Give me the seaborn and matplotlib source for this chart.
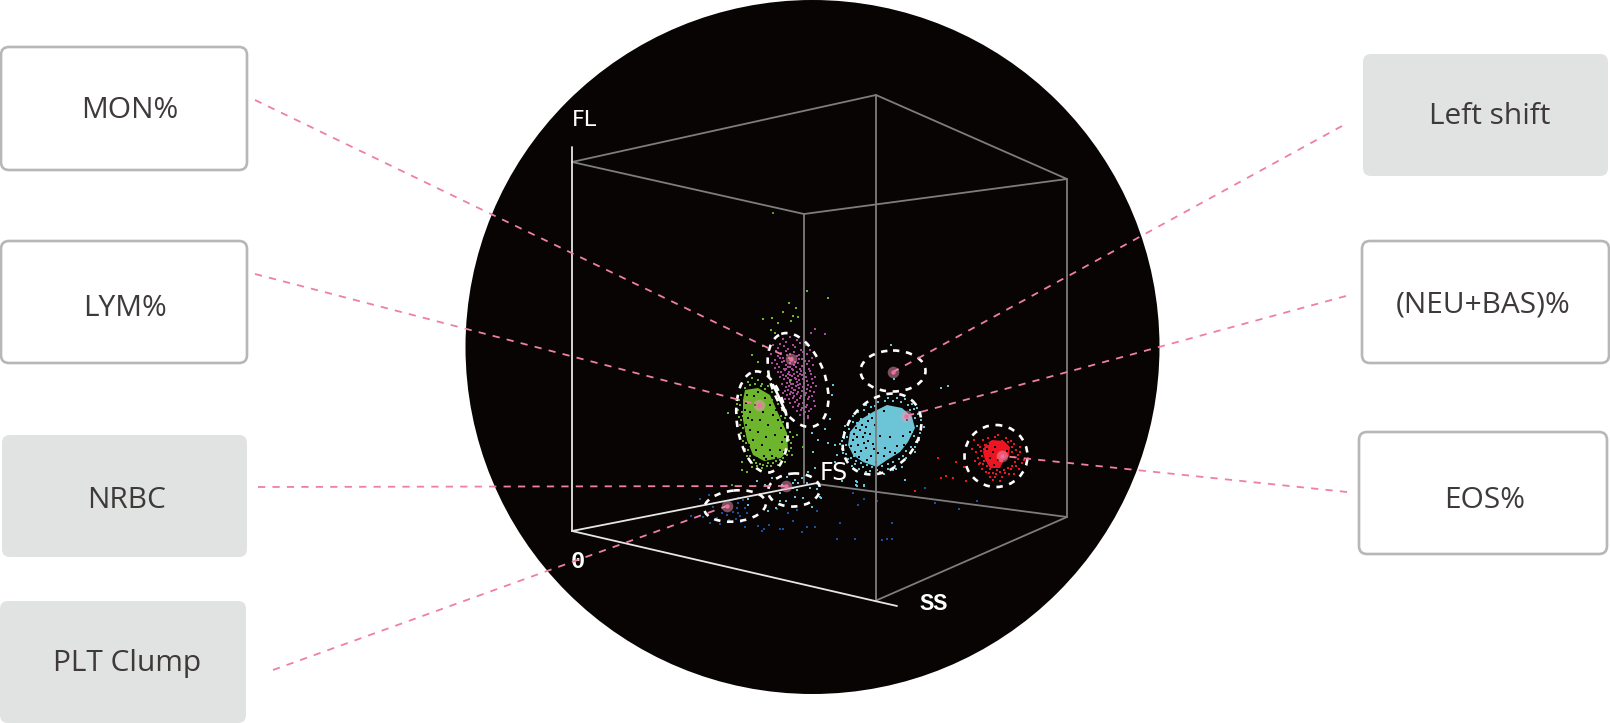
import matplotlib
matplotlib.use("Agg")
import matplotlib.pyplot as plt
import pandas as pd
import seaborn as sns
from matplotlib.patches import Circle, Ellipse, FancyBboxPatch

box_names = ["MON%", "LYM%", "NRBC", "PLT Clump", "Left shift", "(NEU+BAS)%", "EOS%"]
box_left = [1, 1, 2, 0, 1363, 1362, 1359]
box_right = [247, 247, 247, 246, 1608, 1609, 1607]
box_top = [47, 241, 435, 601, 54, 241, 432]
box_bottom = [170, 363, 557, 723, 176, 363, 554]
box_filled = [False, False, True, True, True, False, False]
text_x = [130, 124.5, 127, 127, 1490, 1483, 1485]
text_y = [110, 308, 500, 664, 116, 305, 501]

# leader lines, outer end -> dot in the cluster
lead_x0 = [255, 255, 258, 273, 1342, 1346, 1347]
lead_y0 = [100, 274, 487, 670, 126, 296, 492]
dot_x = [791, 759, 786, 727, 893, 906, 1002]
dot_y = [359, 405, 486, 506, 372, 416, 456]

# dashed gates: centre, width, height, tilt
gate_x = [798, 762, 794, 735, 893, 882, 996]
gate_y = [380, 422, 490, 506, 371, 434, 456]
gate_w = [54, 50, 52, 62, 65, 68, 63]
gate_h = [98, 102, 33, 31, 41, 90, 62]
gate_angle = [-20, -8, -4, -6, 0, 42, 0]

# 3D frame
front_x = [572, 875, 897]
front_y = [531, 601, 606]
white_fs_x = [572, 817]
white_fs_y = [531, 483]
fl_axis_x = [572, 572]
fl_axis_y = [531, 147]
grey_lines = [
    ([572, 876, 1067, 804, 572], [162, 95, 179, 214, 162]),
    ([876, 876], [95, 601]),
    ([804, 804], [214, 483]),
    ([1067, 1067], [179, 517]),
    ([875, 1067], [601, 517]),
    ([817, 1067], [484, 517]),
]

mon_points = [
    (783, 339), (790, 337), (797, 340), (780, 344), (786, 342), (793, 345), (800, 343),
    (778, 348), (784, 346), (788, 349), (795, 347), (801, 350), (776, 351), (781, 353),
    (786, 351), (790, 354), (794, 352), (799, 355), (803, 352), (778, 356), (783, 358),
    (787, 355), (792, 358), (797, 356), (802, 359), (775, 360), (780, 358), (784, 361),
    (795, 362), (799, 359), (805, 361), (777, 364), (782, 362), (786, 365), (790, 363),
    (794, 365), (798, 363), (802, 366), (807, 364), (779, 367), (784, 369), (788, 367),
    (792, 369), (796, 367), (800, 369), (804, 367), (809, 369), (781, 372), (785, 370),
    (789, 372), (793, 370), (797, 372), (801, 371), (805, 373), (810, 371), (783, 375),
    (786, 376), (790, 375), (794, 374), (798, 376), (802, 375), (806, 377), (784, 379),
    (788, 378), (791, 380), (795, 378), (799, 380), (803, 379), (807, 381), (812, 379),
    (787, 383), (790, 382), (793, 384), (797, 382), (800, 384), (804, 383), (808, 385),
    (813, 383), (786, 387), (789, 386), (792, 388), (796, 386), (799, 388), (803, 387),
    (807, 389), (811, 387), (785, 391), (788, 390), (791, 392), (794, 390), (798, 392),
    (802, 391), (806, 393), (810, 391), (787, 395), (790, 394), (794, 396), (797, 394),
    (801, 396), (805, 395), (809, 397), (789, 399), (793, 398), (797, 400), (800, 398),
    (804, 400), (808, 399), (814, 401), (790, 403), (795, 402), (799, 404), (803, 403),
    (807, 405), (793, 407), (798, 406), (802, 408), (806, 407), (811, 409), (797, 411),
    (801, 410), (805, 412), (809, 411), (800, 415), (804, 414), (808, 416), (804, 419),
    (808, 418), (811, 333), (825, 334), (815, 329), (792, 376), (796, 379), (800, 374),
    (788, 374), (791, 384), (795, 390), (793, 393), (798, 385), (786, 369), (790, 367),
    (806, 345), (810, 350), (807, 354), (812, 358), (809, 361), (813, 365), (811, 374),
    (815, 377), (816, 386), (814, 392), (812, 396), (815, 406), (773, 345), (771, 354),
    (772, 363), (775, 368), (778, 372), (780, 377), (782, 384), (783, 393), (785, 399),
]

lym_core_x = [745, 758, 770, 778, 787, 788, 781, 764, 753, 747, 743, 743]
lym_core_y = [390, 388, 395, 413, 433, 450, 458, 461, 455, 440, 420, 400]
lym_specks = [
    (807, 291), (828, 298), (789, 303), (796, 308), (783, 312), (793, 316), (798, 317), (772, 318),
    (763, 319), (791, 321), (778, 323), (771, 330), (775, 333), (763, 346), (752, 355), (758, 362),
    (728, 413), (803, 447), (797, 435), (790, 380), (732, 485), (742, 470), (747, 472), (752, 467),
    (762, 468), (768, 463), (777, 457), (742, 462), (752, 378), (758, 380), (745, 388), (750, 385),
    (762, 384), (768, 386), (741, 395), (745, 398), (772, 392), (776, 397), (740, 405), (742, 412),
    (778, 404), (782, 410), (741, 420), (743, 428), (785, 418), (787, 425), (744, 436), (746, 443),
    (790, 432), (789, 440), (748, 450), (750, 456), (791, 448), (787, 455), (754, 460), (760, 464),
    (780, 460), (773, 463), (785, 462), (767, 466), (757, 466), (744, 404), (743, 416), (783, 428),
    (746, 431), (748, 438), (791, 443), (789, 451), (752, 463), (776, 461), (748, 382), (755, 384),
    (765, 389), (772, 400), (779, 399), (781, 416), (783, 422), (739, 400), (738, 410), (739, 417),
    (740, 425), (741, 433), (743, 441), (745, 449), (747, 456), (750, 461), (756, 463), (763, 465),
    (771, 466), (778, 465), (783, 458), (793, 437), (792, 455), (737, 404), (749, 392), (761, 386),
]
lym_holes = [
    (755, 405), (763, 412), (752, 420), (768, 425), (758, 432), (775, 435), (762, 445), (770, 450),
    (753, 440), (782, 442), (750, 412), (765, 398), (778, 420), (756, 450), (773, 415), (760, 420),
    (766, 437), (750, 430), (780, 450), (757, 458), (772, 456), (785, 437), (764, 456), (754, 396),
    (747, 395), (745, 410), (746, 425), (749, 445), (784, 452), (776, 458), (766, 459), (758, 392),
    (770, 405), (776, 410), (781, 428), (746, 403), (748, 418),
]

neu_core_x = [873, 887, 902, 912, 915, 908, 900, 887, 877, 863, 853, 848, 850, 860]
neu_core_y = [412, 405, 408, 417, 428, 442, 452, 460, 467, 462, 455, 445, 432, 420]
neu_specks = [
    (891, 345), (894, 379), (941, 388), (948, 386), (833, 385), (832, 395), (830, 419), (825, 429),
    (828, 443), (835, 445), (837, 455), (905, 480), (856, 481), (856, 485), (864, 486), (924, 427),
    (915, 452), (902, 467), (896, 469), (821, 498), (812, 433), (818, 440), (813, 452), (815, 468),
    (808, 472), (835, 462), (845, 426), (849, 421), (853, 416), (858, 412), (864, 410), (871, 407),
    (878, 402), (885, 401), (893, 401), (901, 402), (908, 405), (914, 409), (918, 414), (921, 420),
    (917, 426), (920, 433), (914, 436), (916, 442), (911, 447), (906, 451), (903, 456), (899, 459),
    (893, 462), (888, 464), (882, 466), (877, 470), (872, 467), (867, 465), (861, 463), (856, 461),
    (851, 458), (846, 454), (842, 449), (846, 445), (842, 441), (847, 437), (844, 432), (849, 429),
    (851, 435), (850, 447), (854, 456), (866, 472), (859, 469), (852, 466), (884, 474), (893, 470),
    (912, 432), (915, 418), (910, 410), (875, 413), (869, 414), (861, 419), (857, 423), (848, 425),
    (853, 422), (844, 438), (840, 444), (843, 453), (848, 459), (855, 464), (863, 467), (870, 471),
    (906, 458), (910, 453), (915, 447), (919, 440), (921, 427), (895, 466), (888, 469), (880, 472),
    (866, 405), (875, 406), (905, 399), (897, 398), (888, 398), (912, 404), (917, 408),
]
neu_holes = [
    (860, 430), (866, 427), (863, 437), (870, 434), (858, 445), (866, 448), (873, 444), (861, 451),
    (875, 425), (878, 453), (871, 456), (890, 452), (897, 446), (885, 448), (903, 436), (890, 437),
    (907, 420), (857, 437), (868, 421), (884, 411), (880, 436), (853, 440), (851, 446), (856, 428),
    (855, 452), (862, 425), (868, 441), (859, 457), (867, 460), (876, 462), (884, 456), (895, 453),
    (865, 433), (872, 418), (854, 434), (874, 449), (904, 445), (910, 432), (864, 443),
]

eos_core_x = [985, 992, 1004, 1010, 1009, 1003, 1000, 990, 985, 983]
eos_core_y = [445, 440, 441, 447, 456, 462, 468, 468, 460, 452]
eos_specks = [
    (938, 458), (956, 462), (941, 478), (946, 476), (953, 478), (966, 481), (915, 491), (964, 467),
    (998, 435), (983, 440), (974, 440), (972, 449), (976, 452), (980, 447), (985, 445), (991, 442),
    (1002, 441), (1008, 442), (978, 458), (982, 456), (985, 452), (975, 461), (980, 463), (984, 461),
    (987, 466), (982, 469), (986, 472), (990, 469), (993, 473), (997, 470), (990, 477), (995, 477),
    (1000, 472), (1004, 470), (1008, 468), (1012, 466), (1002, 477), (1009, 474), (1015, 462),
    (1014, 457), (1018, 455), (1012, 452), (1016, 450), (1012, 447), (1020, 447), (1024, 460),
    (1028, 458), (1022, 463), (1019, 469), (1014, 474), (986, 456), (984, 449), (1011, 441),
    (993, 480), (1000, 481), (978, 445), (981, 451), (979, 464), (983, 464), (989, 473), (996, 474),
    (1005, 473), (1011, 469), (1016, 466), (1018, 459), (1014, 444), (1006, 438), (995, 437),
    (988, 438), (1020, 452),
]
eos_holes = [
    (993, 452), (998, 460), (990, 458), (1004, 461), (995, 447), (987, 449), (986, 463), (994, 465),
    (1002, 466), (988, 444), (1007, 451),
]

plt_specks = [
    (700, 499), (691, 516), (703, 517), (710, 523), (717, 518), (722, 513), (727, 515), (733, 512),
    (738, 513), (740, 516), (747, 513), (745, 527), (738, 498), (738, 503), (743, 500), (737, 508),
    (713, 507), (732, 500), (758, 526), (762, 531), (764, 529), (769, 525), (780, 529), (783, 529),
    (793, 521), (802, 532), (807, 527), (815, 527), (817, 511), (797, 510), (788, 513), (777, 509),
    (840, 523), (837, 539), (855, 539), (882, 540), (887, 539), (892, 539), (892, 523), (877, 501),
    (858, 505), (864, 499), (853, 493), (935, 503), (925, 488), (977, 501), (959, 509), (729, 520),
    (736, 519), (741, 522), (720, 524), (709, 495), (745, 508),
]
nrbc_specks = [
    (757, 481), (765, 485), (793, 483), (798, 483), (807, 483), (793, 488), (797, 490), (780, 493),
    (780, 501), (786, 501), (795, 497), (803, 498), (820, 497), (817, 489), (810, 488), (748, 499),
    (748, 505), (768, 511), (776, 508), (812, 507), (857, 486), (864, 485), (842, 481), (772, 478),
    (795, 480), (857, 482), (787, 477), (802, 478), (782, 485),
]
stray_green = [(773, 213), (732, 485)]

sns.set_theme(style="white")
plt.rcParams["lines.scale_dashes"] = False
plt.rcParams["font.family"] = ["Open Sans", "DejaVu Sans"]

BLACK = "#070403"
INK = "#3e3a39"
PINK = "#ef7fa8"
GREY_BOX = "#e1e3e2"
GREY_EDGE = "#b7b7b7"
FRAME = "#7d7d7d"


def to_frame(points):
    return pd.DataFrame(points, columns=["x", "y"])


def draw_cloud(points, color, ax, size=2.6):
    sns.scatterplot(data=to_frame(points), x="x", y="y", ax=ax, color=color, marker="s",
                    s=size, linewidth=0, legend=False, zorder=3)


def draw_line(xs, ys, color, width, ax, zorder=4, **kws):
    sns.lineplot(x=xs, y=ys, sort=False, estimator=None, color=color, linewidth=width,
                 ax=ax, legend=False, zorder=zorder, **kws)


fig, ax = plt.subplots(figsize=(16.1, 7.23), dpi=100)
fig.subplots_adjust(0, 0, 1, 1)

ax.add_patch(Circle((812.5, 347), 347, facecolor=BLACK, edgecolor="none", zorder=1))

# label boxes
for i, name in enumerate(box_names):
    filled = box_filled[i]
    ax.add_patch(FancyBboxPatch(
        (box_left[i], box_top[i]), box_right[i] - box_left[i], box_bottom[i] - box_top[i],
        boxstyle="round,pad=0,rounding_size=8",
        facecolor=GREY_BOX if filled else "white",
        edgecolor="none" if filled else GREY_EDGE,
        linewidth=1.9, zorder=2))
    ax.text(text_x[i], text_y[i], name, ha="center", va="center", color=INK,
            fontsize=21.5, zorder=3)

# clusters
draw_cloud(mon_points, "#a94b9b", ax, size=3.4)
ax.fill(lym_core_x, lym_core_y, color="#6db52d", lw=0, zorder=3)
draw_cloud(lym_specks, "#6db52d", ax, size=3.8)
draw_cloud(lym_holes, BLACK, ax, size=3.4)
ax.fill(neu_core_x, neu_core_y, color="#6cc5d6", lw=0, zorder=3)
draw_cloud(neu_specks, "#6cc5d6", ax, size=3.8)
draw_cloud(neu_holes, BLACK, ax, size=3.4)
ax.fill(eos_core_x, eos_core_y, color="#ee1522", lw=0, zorder=3)
draw_cloud(eos_specks, "#ee1522", ax, size=4.2)
draw_cloud(eos_holes, BLACK, ax, size=3.4)
draw_cloud(plt_specks, "#1d4f9f", ax)
draw_cloud(nrbc_specks, "#6cc5d6", ax)
draw_cloud(stray_green, "#4f9a1f", ax, size=2)

# 3D frame
for xs, ys in grey_lines:
    draw_line(xs, ys, FRAME, 1.3, ax)
draw_line(front_x, front_y, "#e6e6e6", 1.3, ax, zorder=5)
draw_line(white_fs_x, white_fs_y, "#e6e6e6", 1.3, ax, zorder=5)
draw_line(fl_axis_x, fl_axis_y, "#e6e6e6", 1.3, ax, zorder=5)

ax.text(584, 120, "FL", color="white", fontsize=16, ha="center", va="center",
        family="DejaVu Sans", zorder=6)
ax.text(834, 473, "FS", color="white", fontsize=17, ha="center", va="center",
        family="DejaVu Sans", zorder=6)
ax.text(578, 561, "0", color="white", fontsize=17, ha="center", va="center", weight="bold",
        family="Liberation Mono", zorder=6)
ax.text(934, 603, "SS", color="white", fontsize=17, ha="center", va="center", weight="bold",
        family="Liberation Mono", zorder=6)

# dashed gates
for i in range(len(gate_x)):
    ax.add_patch(Ellipse((gate_x[i], gate_y[i]), gate_w[i], gate_h[i], angle=gate_angle[i],
                         fill=False, edgecolor="white", linewidth=1.9,
                         linestyle=(0, (4.6, 4.8)), zorder=7))
# the short solid bit where the two gates touch
draw_line([773, 778, 786], [385, 395, 413], "white", 1.9, ax, zorder=7)

# leaders and dots
for i in range(len(dot_x)):
    draw_line([lead_x0[i], dot_x[i]], [lead_y0[i], dot_y[i]], PINK, 1.3, ax, zorder=8,
              linestyle=(0, (5.2, 5.2)))
sns.scatterplot(x=dot_x, y=dot_y, ax=ax, color="#f09ab8", s=70, alpha=0.5, linewidth=0,
                legend=False, zorder=9)
sns.scatterplot(x=dot_x, y=dot_y, ax=ax, color="#f06fa2", s=10, linewidth=0,
                legend=False, zorder=10)

ax.set_xlim(0, 1610)
ax.set_ylim(723, 0)
ax.axis("off")

plt.savefig("out.png", dpi=100, facecolor="white")
plt.close()
